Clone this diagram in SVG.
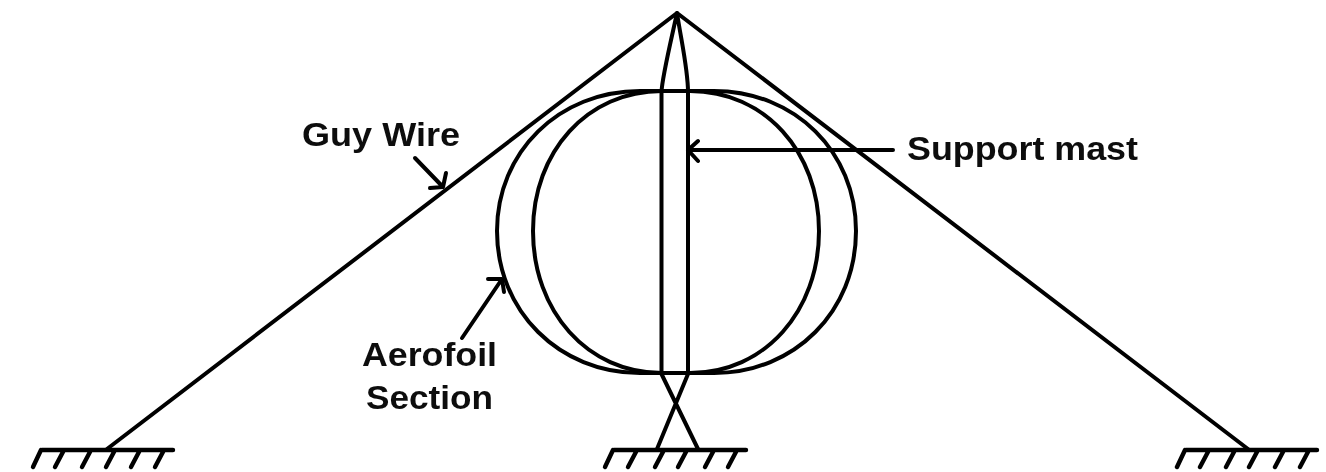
<svg xmlns="http://www.w3.org/2000/svg" width="1326" height="472" viewBox="0 0 1326 472">
<style>
.l{fill:none;stroke:#000;stroke-width:4;stroke-linecap:round;stroke-linejoin:round}
.g{fill:none;stroke:#000;stroke-width:4.4;stroke-linecap:round}
.t{font-family:"Liberation Sans",Arial,sans-serif;font-weight:700;font-size:33px;fill:#111}
</style>
<defs>
<filter id="soft" x="-2%" y="-2%" width="104%" height="104%"><feGaussianBlur stdDeviation="0.7"/></filter>
</defs>
<rect width="1326" height="472" fill="#fff"/>
<g filter="url(#soft)">
<g id="aerofoil-outer"><path class="l" d="M640 91H714C795 91 856 152 856 231C856 311 795 373 714 373H640C559 373 497 311 497 231C497 152 559 91 640 91Z"/></g>
<g id="aerofoil-inner"><path class="l" d="M662 91H690C765 91 819 152 819 231C819 311 765 373 690 373H662C587 373 533 311 533 231C533 152 587 91 662 91Z"/></g>
<g id="mast"><path class="l" d="M661.500 374V92C662 78 670 45 677 13C682 45 688 70 688 92V374M661.500 374L698 449M688 374L657 449"/></g>
<g id="guy-wires"><path class="l" d="M107 449L677 13L1248 449"/></g>
<g id="ground-left"><path class="g" d="M42 450H173M41 450L33 467M64 450L55 467M91 450L82 467M115 450L106 467M140 450L131 467M164 450L155 467"/></g>
<g id="ground-centre"><path class="g" d="M614 450H746M613 450L605 467M637 450L628 467M664 450L655 467M687 450L678 467M714 450L705 467M737 450L728 467"/></g>
<g id="ground-right"><path class="g" d="M1186 450H1317M1185 450L1177 467M1209 450L1200 467M1235 450L1226 467M1258 450L1249 467M1284 450L1275 467M1309 450L1300 467"/></g>
<g id="connectors">
<path class="l" d="M893 150H690M698 141L688 150L698 161"/>
<path class="l" d="M415 158L443 187M446 173L443 187L430 188"/>
<path class="l" d="M462 338L502 279M488 279H502L504 292"/>
</g>
<g id="labels">
<text class="t" x="302" y="146" textLength="158" lengthAdjust="spacingAndGlyphs">Guy Wire</text>
<text class="t" x="907" y="160" textLength="231" lengthAdjust="spacingAndGlyphs">Support mast</text>
<text class="t" x="362" y="366" textLength="135" lengthAdjust="spacingAndGlyphs">Aerofoil</text>
<text class="t" x="366" y="409" textLength="127" lengthAdjust="spacingAndGlyphs">Section</text>
</g>
</g>
</svg>
